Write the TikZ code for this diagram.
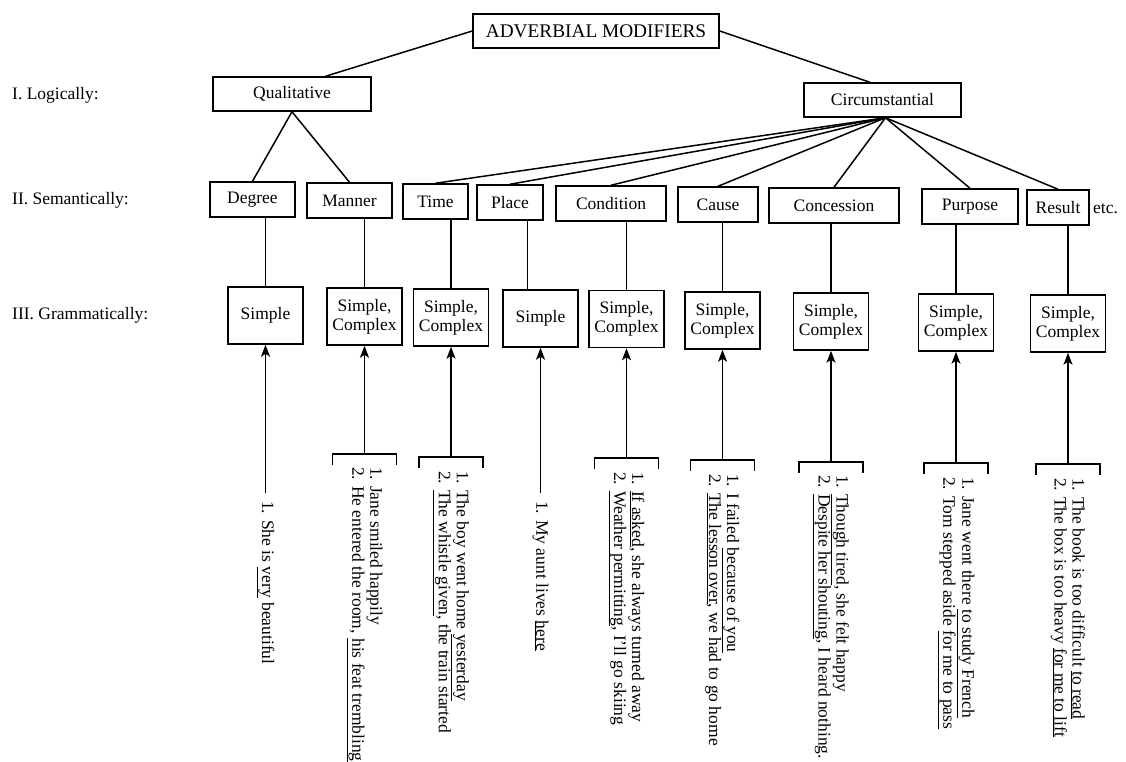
\documentclass[tikz,border=0pt]{standalone}
\usepackage{fontspec}
\setmainfont{Liberation Serif}
\usetikzlibrary{arrows.meta,calc}

\begin{document}
\begin{tikzpicture}[x=1pt,y=-1pt,
  every node/.style={font=\fontsize{17.5}{19}\selectfont},
  box/.style={draw, line width=1.5pt, inner sep=0pt, align=center},
  sem/.style={box, minimum height=35pt},
  gram/.style={box, minimum width=75pt, minimum height=57pt},
  lbl/.style={anchor=west, inner sep=0pt},
  ex/.style={rotate=-90, anchor=west, align=left, inner sep=0pt,
             font=\fontsize{17.5}{18}\selectfont},
  link/.style={line width=1.5pt},
  uparrow/.style={line width=1.5pt, -{Stealth[length=12pt,width=9pt,inset=3pt]}},
]
\useasboundingbox (0,0) rectangle (1126,762);

% ---- level labels ----
\node[lbl] (l1) at (12,95)  {I. Logically:};
\node[lbl] (l2) at (12,200) {II. Semantically:};
\node[lbl] (l3) at (12,315) {III. Grammatically:};

% ---- root and logical level ----
\node[box, minimum width=246pt, minimum height=34pt, font=\fontsize{19.3}{21}\selectfont]
  (root) at (596,31) {ADVERBIAL MODIFIERS};
\node[box, minimum width=158pt, minimum height=34pt] (qual) at (292,94) {Qualitative};
\node[box, minimum width=157pt, minimum height=34pt] (circ) at (882.5,100) {Circumstantial};

% ---- semantic level ----
\node[sem, minimum width=85pt]  (deg)   at (252.5,199.5) {Degree};
\node[sem, minimum width=85pt]  (man)   at (349.5,200.5) {Manner};
\node[sem, minimum width=65pt]  (time)  at (435.5,201.5) {Time};
\node[sem, minimum width=66pt]  (place) at (510,202.5)   {Place};
\node[sem, minimum width=110pt] (cond)  at (611,203.5)   {Condition};
\node[sem, minimum width=80pt]  (cause) at (718,204.5)   {Cause};
\node[sem, minimum width=130pt] (conc)  at (834,205.5)   {Concession};
\node[sem, minimum width=96pt]  (purp)  at (970,206.5)   {Purpose};
\node[sem, minimum width=62pt]  (res)   at (1058,207.5)  {Result};
\node[lbl] (etc) at (1093,209) {etc.};

% ---- grammatical level ----
\node[gram] (gdeg)   at (265.5,315.5) {Simple};
\node[gram] (gman)   at (364.5,316.5) {Simple,\\Complex};
\node[gram] (gtime)  at (451,317.5)   {Simple,\\Complex};
\node[gram] (gplace) at (540.5,318.5) {Simple};
\node[gram] (gcond)  at (626.5,319)   {Simple,\\Complex};
\node[gram] (gcause) at (722.5,320.5) {Simple,\\Complex};
\node[gram] (gconc)  at (831,321.5)   {Simple,\\Complex};
\node[gram] (gpurp)  at (956,322.5)   {Simple,\\Complex};
\node[gram] (gres)   at (1068,323.5)  {Simple,\\Complex};

% ---- tree links ----
\draw[link] (root.west) -- ($(qual.north west)!0.71!(qual.north east)$);
\draw[link] (root.east) -- ($(circ.north west)!0.42!(circ.north east)$);
\draw[link] (qual.south) -- (deg.north);
\draw[link] (qual.south) -- (man.north);
\coordinate (fan) at ($(circ.south)+(3,0)$);
\foreach \n in {time,place,cond,cause,conc,purp,res}
  \draw[link] (fan) -- (\n.north);

% ---- semantic to grammatical ----
\foreach \a/\b in {deg/gdeg,man/gman,time/gtime,cond/gcond,cause/gcause,conc/gconc,purp/gpurp,res/gres}
  \draw[link] (\a.south -| \b.north) -- (\b.north);
\coordinate (pl) at ($(gplace.north)+(-13,0)$);
\draw[link] (place.south -| pl) -- (pl);

% ---- brackets under the grammatical boxes ----
\coordinate (bman)   at (364.5,454);
\coordinate (btime)  at (451,457);
\coordinate (bcond)  at (626.5,458);
\coordinate (bcause) at (722.5,460);
\coordinate (bconc)  at (831,462);
\coordinate (bpurp)  at (956,463);
\coordinate (bres)   at (1068,464);
\foreach \b in {bman,btime,bcond,bcause,bconc,bpurp,bres}
  \draw[link] (\b) ++(-32,11) -- ++(0,-11) -- ++(64,0) -- ++(0,11);

% ---- arrows up to the grammatical boxes ----
\foreach \b/\g in {bman/gman,btime/gtime,bcond/gcond,bcause/gcause,bconc/gconc,bpurp/gpurp,bres/gres}
  \draw[uparrow] (\b) -- (\g.south);

% ---- examples ----
\node[ex] (tdeg) at (265.5,501) {1. She is \underline{very} beautiful};
\node[ex] (tplace) at (540.5,501) {1. My aunt lives \underline{here}};
\draw[uparrow, shorten <=8pt] (tdeg.west) -- (gdeg.south);
\draw[uparrow, shorten <=8pt] (tplace.west) -- (gplace.south);

\node[ex] (tman) at ($(bman)+(0,13)$)
  {1. Jane smiled happily\\2. He entered the room, \underline{his feat trembling}};
\node[ex] (ttime) at ($(btime)+(0,14)$)
  {1. The boy went home \underline{yesterday}\\2. \underline{The whistle given}, the train started};
\node[ex] (tcond) at ($(bcond)+(0,14)$)
  {1. \underline{If asked}, she always turned away\\2. \underline{Weather permitting}, I'll go skiing};
\node[ex] (tcause) at ($(bcause)+(0,14)$)
  {1. I failed \underline{because of you}\\2. \underline{The lesson over}, we had to go home};
\node[ex] (tconc) at ($(bconc)+(0,13)$)
  {1. \underline{Though tired}, she felt happy\\2. \underline{Despite her shouting}, I heard nothing.};
\node[ex] (tpurp) at ($(bpurp)+(0,14)$)
  {1. Jane went there \underline{to study French}\\2. Tom stepped aside \underline{for me to pass}};
\node[ex] (tres) at ($(bres)+(0,14)$)
  {1. The book is too difficult \underline{to read}\\2. The box is too heavy \underline{for me to lift}};

\end{tikzpicture}
\end{document}
